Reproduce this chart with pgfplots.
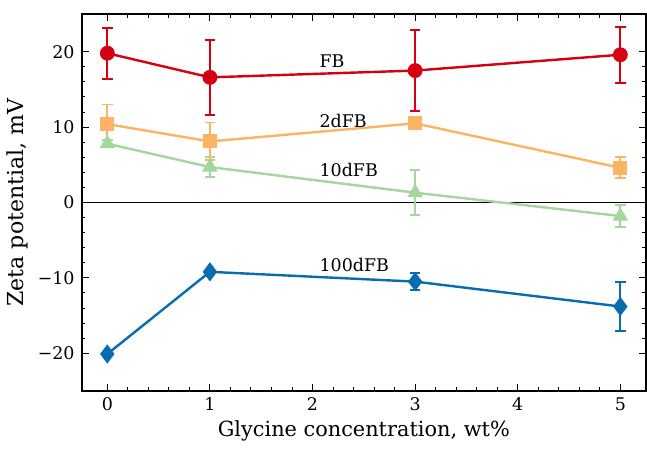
\documentclass[border=0pt]{standalone}
\usepackage{fontspec}
\setmainfont{DejaVu Serif}
\usepackage{pgfplots}
\pgfplotsset{compat=1.18}

\definecolor{cFB}{RGB}{213,0,18}
\definecolor{c2}{RGB}{253,180,98}
\definecolor{c10}{RGB}{164,214,158}
\definecolor{c100}{RGB}{8,108,176}

\begin{document}
\begin{tikzpicture}
\begin{axis}[
  name=ax,
  scale only axis,
  width=281.5pt, height=188pt,
  xmin=-0.25, xmax=5.25,
  ymin=-25, ymax=25,
  xtick={0,1,2,3,4,5},
  xticklabels={0,1,2,3,4,5},
  ytick={-20,-10,0,10,20},
  yticklabels={−20,−10,0,10,20},
  /pgf/number format/assume math mode=true,
  minor x tick num=4, minor y tick num=4,
  tick align=inside,
  major tick length=3.5pt, minor tick length=1.8pt,
  every tick/.style={black, line width=0.5pt},
  axis line style={line width=1pt},
  tick label style={font=\fontsize{8.7}{10}\selectfont},
  xlabel={Glycine concentration, wt\%},
  ylabel={Zeta potential, mV},
  xlabel style={font=\fontsize{10.4}{12}\selectfont, yshift=2pt},
  ylabel style={font=\fontsize{11}{13}\selectfont, yshift=-2pt},
  clip=false,
  error bars/y dir=both,
  error bars/y explicit,
]
\addplot[black, line width=0.8pt, forget plot] coordinates {(-0.25,0) (5.25,0)};

% 10dFB
\addplot[c10, line width=1.2pt, mark=triangle*, mark size=3.3pt,
         error bars/error bar style={c10, line width=0.9pt},
         error bars/error mark options={c10, rotate=90, mark size=2.6pt, line width=0.9pt}]
  coordinates {(0,7.8) +- (0,0.5) (1,4.7) +- (0,1.3) (3,1.3) +- (0,3.0) (5,-1.8) +- (0,1.5)};

% 2dFB
\addplot[c2, line width=1.2pt, mark=square*, mark size=2.9pt,
         error bars/error bar style={c2, line width=0.9pt},
         error bars/error mark options={c2, rotate=90, mark size=2.6pt, line width=0.9pt}]
  coordinates {(0,10.4) +- (0,2.6) (1,8.1) +- (0,2.5) (3,10.5) +- (0,0.8) (5,4.6) +- (0,1.4)};

% FB
\addplot[cFB, line width=1.2pt, mark=*, mark size=3.1pt,
         error bars/error bar style={cFB, line width=0.9pt},
         error bars/error mark options={cFB, rotate=90, mark size=2.6pt, line width=0.9pt}]
  coordinates {(0,19.8) +- (0,3.4) (1,16.6) +- (0,5.0) (3,17.5) +- (0,5.4) (5,19.6) +- (0,3.7)};

% 100dFB
\addplot[c100, line width=1.2pt, mark=diamond*, mark size=3.8pt,
         error bars/error bar style={c100, line width=0.9pt},
         error bars/error mark options={c100, rotate=90, mark size=2.6pt, line width=0.9pt}]
  coordinates {(0,-20.1) +- (0,0) (1,-9.2) +- (0,0) (3,-10.5) +- (0,1.1) (5,-13.8) +- (0,3.3)};

\node[anchor=west, font=\fontsize{8.7}{10}\selectfont] at (axis cs:2.0,18.7) {FB};
\node[anchor=west, font=\fontsize{8.7}{10}\selectfont] at (axis cs:2.0,10.8) {2dFB};
\node[anchor=west, font=\fontsize{8.7}{10}\selectfont] at (axis cs:2.0,4.3) {10dFB};
\node[anchor=west, font=\fontsize{8.7}{10}\selectfont] at (axis cs:2.0,-8.3) {100dFB};
\end{axis}
\path ([yshift=7pt]ax.north west);
\end{tikzpicture}
\end{document}
